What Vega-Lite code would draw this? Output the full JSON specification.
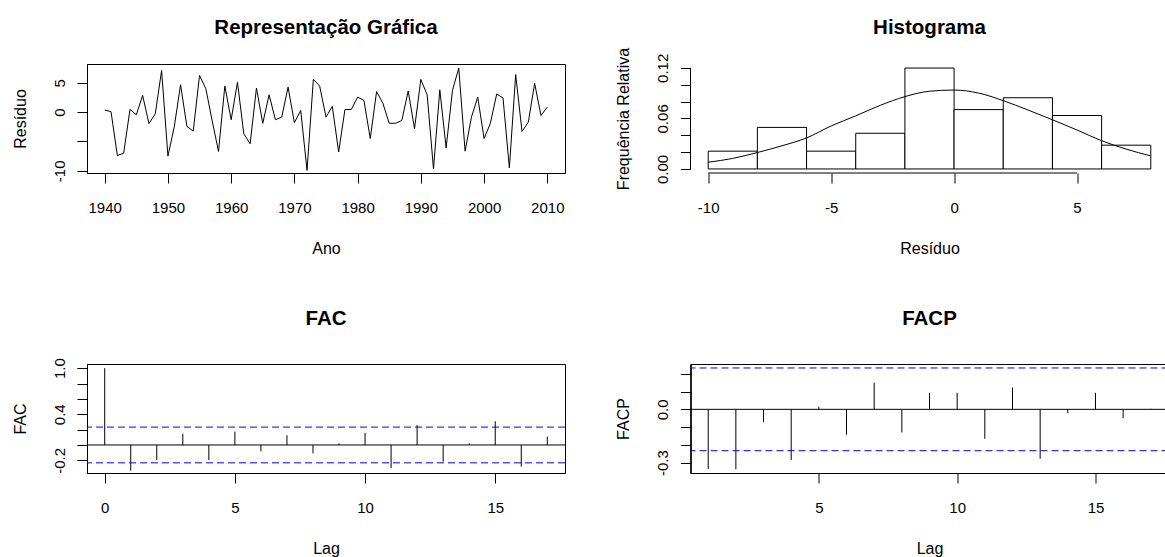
{
  "$schema": "https://vega.github.io/schema/vega-lite/v6.json",
  "background": "white",
  "padding": {"left": 11, "top": 17, "right": 0, "bottom": 0},
  "datasets": {
    "resid": [
      {"ano": 1940, "residuo": 0.35}, {"ano": 1941, "residuo": 0.08}, {"ano": 1942, "residuo": -7.4}, {"ano": 1943, "residuo": -7.0},
      {"ano": 1944, "residuo": 0.45}, {"ano": 1945, "residuo": -0.45}, {"ano": 1946, "residuo": 2.84}, {"ano": 1947, "residuo": -1.95},
      {"ano": 1948, "residuo": -0.28}, {"ano": 1949, "residuo": 7.1}, {"ano": 1950, "residuo": -7.5}, {"ano": 1951, "residuo": -2.5},
      {"ano": 1952, "residuo": 4.66}, {"ano": 1953, "residuo": -2.44}, {"ano": 1954, "residuo": -3.24}, {"ano": 1955, "residuo": 6.25},
      {"ano": 1956, "residuo": 3.98}, {"ano": 1957, "residuo": -1.5}, {"ano": 1958, "residuo": -6.7}, {"ano": 1959, "residuo": 4.43},
      {"ano": 1960, "residuo": -1.3}, {"ano": 1961, "residuo": 5.1}, {"ano": 1962, "residuo": -3.7}, {"ano": 1963, "residuo": -5.4},
      {"ano": 1964, "residuo": 4.1}, {"ano": 1965, "residuo": -1.9}, {"ano": 1966, "residuo": 2.95}, {"ano": 1967, "residuo": -1.3},
      {"ano": 1968, "residuo": -0.85}, {"ano": 1969, "residuo": 4.26}, {"ano": 1970, "residuo": -1.8}, {"ano": 1971, "residuo": 0.28},
      {"ano": 1972, "residuo": -9.94}, {"ano": 1973, "residuo": 5.6}, {"ano": 1974, "residuo": 4.43}, {"ano": 1975, "residuo": -0.85},
      {"ano": 1976, "residuo": 0.97}, {"ano": 1977, "residuo": -6.8}, {"ano": 1978, "residuo": 0.45}, {"ano": 1979, "residuo": 0.45},
      {"ano": 1980, "residuo": 2.56}, {"ano": 1981, "residuo": 2.0}, {"ano": 1982, "residuo": -4.5}, {"ano": 1983, "residuo": 3.5},
      {"ano": 1984, "residuo": 1.5}, {"ano": 1985, "residuo": -1.9}, {"ano": 1986, "residuo": -1.9}, {"ano": 1987, "residuo": -1.4},
      {"ano": 1988, "residuo": 3.6}, {"ano": 1989, "residuo": -2.8}, {"ano": 1990, "residuo": 5.57}, {"ano": 1991, "residuo": 2.95},
      {"ano": 1992, "residuo": -9.66}, {"ano": 1993, "residuo": 3.8}, {"ano": 1994, "residuo": -6.1}, {"ano": 1995, "residuo": 3.7},
      {"ano": 1996, "residuo": 7.5}, {"ano": 1997, "residuo": -6.65}, {"ano": 1998, "residuo": -0.85}, {"ano": 1999, "residuo": 2.56},
      {"ano": 2000, "residuo": -4.5}, {"ano": 2001, "residuo": -1.9}, {"ano": 2002, "residuo": 3.1}, {"ano": 2003, "residuo": 2.4},
      {"ano": 2004, "residuo": -9.5}, {"ano": 2005, "residuo": 6.4}, {"ano": 2006, "residuo": -3.3}, {"ano": 2007, "residuo": -1.7},
      {"ano": 2008, "residuo": 4.9}, {"ano": 2009, "residuo": -0.57}, {"ano": 2010, "residuo": 0.85}
    ],
    "hist": [
      {"inicio": -10, "fim": -8, "freq": 0.0211},
      {"inicio": -8, "fim": -6, "freq": 0.0493},
      {"inicio": -6, "fim": -4, "freq": 0.0211},
      {"inicio": -4, "fim": -2, "freq": 0.0423},
      {"inicio": -2, "fim": 0, "freq": 0.1197},
      {"inicio": 0, "fim": 2, "freq": 0.0704},
      {"inicio": 2, "fim": 4, "freq": 0.0845},
      {"inicio": 4, "fim": 6, "freq": 0.0634},
      {"inicio": 6, "fim": 8, "freq": 0.0282}
    ],
    "curva": [
      {"x": -10, "dens": 0.0080}, {"x": -9, "dens": 0.0125}, {"x": -8, "dens": 0.0195}, {"x": -7, "dens": 0.0275},
      {"x": -6, "dens": 0.0368}, {"x": -5, "dens": 0.0510}, {"x": -4, "dens": 0.0630}, {"x": -3, "dens": 0.0755},
      {"x": -2, "dens": 0.0858}, {"x": -1, "dens": 0.0922}, {"x": 0, "dens": 0.0936}, {"x": 1, "dens": 0.0900},
      {"x": 2, "dens": 0.0810}, {"x": 3, "dens": 0.0700}, {"x": 4, "dens": 0.0584}, {"x": 5, "dens": 0.0462},
      {"x": 6, "dens": 0.0335}, {"x": 7, "dens": 0.0235}, {"x": 8, "dens": 0.0155}
    ],
    "fac": [
      {"lag": 0, "fac": 1.0}, {"lag": 1, "fac": -0.335}, {"lag": 2, "fac": -0.196}, {"lag": 3, "fac": 0.143},
      {"lag": 4, "fac": -0.196}, {"lag": 5, "fac": 0.174}, {"lag": 6, "fac": -0.083}, {"lag": 7, "fac": 0.126},
      {"lag": 8, "fac": -0.109}, {"lag": 9, "fac": 0.022}, {"lag": 10, "fac": 0.157}, {"lag": 11, "fac": -0.30},
      {"lag": 12, "fac": 0.26}, {"lag": 13, "fac": -0.217}, {"lag": 14, "fac": 0.022}, {"lag": 15, "fac": 0.309},
      {"lag": 16, "fac": -0.283}, {"lag": 17, "fac": 0.109}
    ],
    "facp": [
      {"lag": 1, "facp": -0.335}, {"lag": 2, "facp": -0.337}, {"lag": 3, "facp": -0.072}, {"lag": 4, "facp": -0.285},
      {"lag": 5, "facp": 0.015}, {"lag": 6, "facp": -0.143}, {"lag": 7, "facp": 0.15}, {"lag": 8, "facp": -0.13},
      {"lag": 9, "facp": 0.093}, {"lag": 10, "facp": 0.093}, {"lag": 11, "facp": -0.165}, {"lag": 12, "facp": 0.122},
      {"lag": 13, "facp": -0.278}, {"lag": 14, "facp": -0.022}, {"lag": 15, "facp": 0.093}, {"lag": 16, "facp": -0.05},
      {"lag": 17, "facp": 0.003}
    ],
    "ic": [
      {"limite": 0.2326}, {"limite": -0.2326}
    ],
    "base": [
      {"nivel": 0}
    ]
  },
  "columns": 2,
  "bounds": "flush",
  "spacing": {"row": 191, "column": 125.5},
  "concat": [
    {
      "width": 478,
      "height": 109,
      "title": {"text": "Representação Gráfica", "offset": 25.5},
      "data": {"name": "resid"},
      "mark": {"type": "line", "color": "black", "strokeWidth": 1},
      "encoding": {
        "x": {
          "field": "ano", "type": "quantitative",
          "scale": {"domain": [1937.2, 2012.8], "nice": false, "zero": false},
          "axis": {"title": "Ano", "values": [1940, 1950, 1960, 1970, 1980, 1990, 2000, 2010], "format": "d"}
        },
        "y": {
          "field": "residuo", "type": "quantitative",
          "scale": {"domain": [-10.375, 8.2], "nice": false, "zero": false},
          "axis": {"title": "Resíduo", "values": [-10, -5, 0, 5],
                   "labelExpr": "datum.value == -5 ? '' : replace(datum.label, '−', '-')"}
        }
      }
    },
    {
      "width": 478,
      "height": 109,
      "title": {"text": "Histograma", "offset": 8.5},
      "view": {"stroke": null},
      "resolve": {"axis": {"y": "independent"}},
      "layer": [
        {
          "data": {"name": "hist"},
          "mark": {"type": "rect", "fill": "white", "stroke": "black", "strokeWidth": 1},
          "encoding": {
            "x": {
              "field": "inicio", "type": "quantitative",
              "scale": {"domain": [-10.72, 8.72], "nice": false, "zero": false},
              "axis": {"title": "Resíduo", "values": [-10, -5, 0, 5], "domain": false,
                       "labelExpr": "replace(datum.label, '−', '-')"}
            },
            "x2": {"field": "fim"},
            "y": {
              "field": "freq", "type": "quantitative",
              "scale": {"domain": [-0.0048, 0.1245], "nice": false, "zero": false},
              "axis": {"title": "Frequência Relativa", "orient": "left", "values": [0, 0.06, 0.12], "domain": false, "format": ".2f"}
            },
            "y2": {"datum": 0}
          }
        },
        {
          "data": {"name": "curva"},
          "mark": {"type": "line", "color": "black", "strokeWidth": 1, "interpolate": "monotone"},
          "encoding": {
            "x": {"field": "x", "type": "quantitative"},
            "y": {"field": "dens", "type": "quantitative",
                  "axis": {"title": null, "orient": "left", "values": [0, 0.02, 0.04, 0.06, 0.08, 0.1, 0.12], "domain": false, "labels": false}}
          }
        },
        {
          "data": {"name": "base"},
          "mark": {"type": "rule", "color": "black", "strokeWidth": 1},
          "encoding": {
            "x": {"datum": -10, "type": "quantitative"},
            "x2": {"datum": 5},
            "y": {"datum": -0.0048, "type": "quantitative", "axis": null}
          }
        },
        {
          "data": {"name": "base"},
          "mark": {"type": "rule", "color": "black", "strokeWidth": 1},
          "encoding": {
            "x": {"datum": -10.72, "type": "quantitative"},
            "y": {"datum": 0, "type": "quantitative", "axis": null},
            "y2": {"datum": 0.12}
          }
        }
      ]
    },
    {
      "width": 478,
      "height": 109,
      "title": {"text": "FAC", "offset": 28},
      "resolve": {"axis": {"y": "independent"}},
      "layer": [
        {
          "data": {"name": "fac"},
          "mark": {"type": "rule", "color": "black", "strokeWidth": 1},
          "encoding": {
            "x": {
              "field": "lag", "type": "quantitative",
              "scale": {"domain": [-0.68, 17.68], "nice": false, "zero": false},
              "axis": {"title": "Lag", "values": [0, 5, 10, 15]}
            },
            "y": {
              "field": "fac", "type": "quantitative",
              "scale": {"domain": [-0.365, 1.054], "nice": false, "zero": false},
              "axis": {"title": "FAC", "orient": "left", "values": [-0.2, 0.4, 1.0], "format": ".1f",
                       "labelExpr": "replace(datum.label, '−', '-')"}
            },
            "y2": {"datum": 0}
          }
        },
        {
          "data": {"name": "base"},
          "mark": {"type": "rule", "color": "black", "strokeWidth": 1},
          "encoding": {"y": {"field": "nivel", "type": "quantitative",
                             "axis": {"title": null, "orient": "left", "values": [-0.2, 0, 0.2, 0.4, 0.6, 0.8, 1.0], "labels": false}}}
        },
        {
          "data": {"name": "ic"},
          "mark": {"type": "rule", "color": "#0000ff", "strokeWidth": 1, "strokeDash": [7, 4]},
          "encoding": {"y": {"field": "limite", "type": "quantitative", "axis": null}}
        }
      ]
    },
    {
      "width": 478,
      "height": 109,
      "title": {"text": "FACP", "offset": 35},
      "resolve": {"axis": {"y": "independent"}},
      "layer": [
        {
          "data": {"name": "facp"},
          "mark": {"type": "rule", "color": "black", "strokeWidth": 1},
          "encoding": {
            "x": {
              "field": "lag", "type": "quantitative",
              "scale": {"domain": [0.36, 17.64], "nice": false, "zero": false},
              "axis": {"title": "Lag", "values": [5, 10, 15]}
            },
            "y": {
              "field": "facp", "type": "quantitative",
              "scale": {"domain": [-0.358, 0.255], "nice": false, "zero": false},
              "axis": {"title": "FACP", "orient": "left", "values": [-0.3, 0], "format": ".1f",
                       "labelExpr": "replace(datum.label, '−', '-')"}
            },
            "y2": {"datum": 0}
          }
        },
        {
          "data": {"name": "base"},
          "mark": {"type": "rule", "color": "black", "strokeWidth": 1},
          "encoding": {"y": {"field": "nivel", "type": "quantitative",
                             "axis": {"title": null, "orient": "left", "values": [-0.3, -0.2, -0.1, 0, 0.1, 0.2], "labels": false}}}
        },
        {
          "data": {"name": "ic"},
          "mark": {"type": "rule", "color": "#0000ff", "strokeWidth": 1, "strokeDash": [7, 4]},
          "encoding": {"y": {"field": "limite", "type": "quantitative", "axis": null}}
        }
      ]
    }
  ],
  "config": {
    "font": "Liberation Sans",
    "view": {"stroke": "black", "strokeWidth": 1},
    "axis": {
      "grid": false,
      "domainColor": "black",
      "tickColor": "black",
      "labelColor": "black",
      "titleColor": "black",
      "labelFont": "Liberation Sans",
      "titleFont": "Liberation Sans",
      "labelFontSize": 15,
      "titleFontSize": 16,
      "titleFontWeight": "normal",
      "tickSize": 10,
      "labelFlush": false
    },
    "axisX": {"labelPadding": 17.5, "titlePadding": 24.5},
    "axisY": {"labelAngle": -90, "labelAlign": "center", "labelBaseline": "bottom", "labelPadding": 10, "titlePadding": 24},
    "title": {"font": "Liberation Sans", "fontSize": 20.5, "fontWeight": "bold", "color": "black", "anchor": "middle"}
  }
}
